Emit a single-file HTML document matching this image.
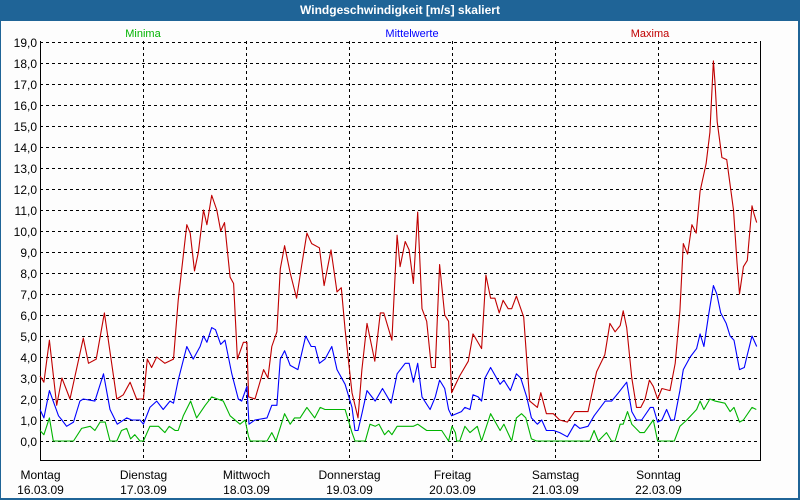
<!DOCTYPE html>
<html><head><meta charset="utf-8"><style>
html,body{margin:0;padding:0;background:#fff;}
#wrap{position:relative;width:800px;height:500px;background:#1f6497;overflow:hidden;font-family:"Liberation Sans",sans-serif;}
#title{position:absolute;left:0;top:0;width:800px;height:20px;line-height:20px;text-align:center;color:#fff;font-weight:bold;font-size:12px;}
#inner{position:absolute;left:1px;top:21px;width:797px;height:477px;background:#fdfdfd;}
svg{position:absolute;left:0;top:0;}
</style></head><body>
<div id="wrap">
<div id="title">Windgeschwindigkeit [m/s] skaliert</div>
<div id="inner"></div>
<svg id="chart" width="800" height="500" shape-rendering="crispEdges"></svg>
</div>
<script>
const dayNames = ["Montag","Dienstag","Mittwoch","Donnerstag","Freitag","Samstag","Sonntag"];
const dayDates = ["16.03.09","17.03.09","18.03.09","19.03.09","20.03.09","21.03.09","22.03.09"];
const yTicks = [0,1,2,3,4,5,6,7,8,9,10,11,12,13,14,15,16,17,18,19];
const maxHours = [0,0.9,2.2,3.9,5.1,7.0,10.1,11.3,13.1,15.0,17.9,19.4,21.0,22.5,24.1,25.0,26.0,27.2,29.1,31.1,32.2,34.2,35.0,36.0,36.9,38.1,38.9,40.0,41.2,42.1,43.0,44.3,45.1,46.0,47.4,48.2,48.6,50.1,52.1,53.1,54.0,55.2,56.0,57.0,58.3,59.8,61.0,62.2,63.3,65.1,66.2,67.8,69.2,70.2,71.1,72.7,74.1,75.0,76.2,78.0,79.3,80.1,82.0,83.2,83.9,85.1,86.0,87.0,88.0,89.0,90.1,91.2,92.1,93.1,94.3,95.2,95.9,97.8,99.8,100.9,102.9,103.9,105.0,106.0,107.0,107.9,109.1,109.9,111.0,112.7,114.1,115.9,116.7,118.0,119.6,121.1,122.9,124.6,127.7,129.7,131.6,132.8,134.0,135.2,135.9,136.7,137.9,139.0,140.0,141.0,142.0,142.9,143.9,144.9,146.8,148.0,149.1,149.9,150.9,151.9,152.9,153.8,155.2,156.1,156.9,157.3,157.8,158.9,160.0,161.6,162.4,163.0,163.9,164.8,165.9,166.4,167.0];
const maxValues = [3.1,2.8,4.8,1.7,3.0,2.0,4.9,3.7,3.9,6.1,2.0,2.2,2.8,2.0,2.0,3.9,3.5,4.0,3.7,3.9,6.7,10.3,9.9,8.1,9.0,11.0,10.3,11.7,11.0,10.0,10.4,7.8,7.5,3.9,4.7,4.7,2.1,2.0,3.4,3.0,4.5,5.2,8.2,9.3,8.0,6.8,8.4,9.9,9.4,9.2,7.4,9.1,7.1,7.3,5.3,2.3,1.1,3.4,5.6,3.8,6.1,6.1,4.8,9.8,8.3,9.5,9.1,7.5,10.9,6.3,5.7,3.5,3.5,8.4,6.0,5.7,2.3,3.1,3.8,5.1,4.4,7.9,6.8,6.8,6.1,6.7,6.3,6.3,6.9,5.9,1.9,1.6,2.3,1.3,1.3,1.0,0.9,1.4,1.4,3.3,4.1,5.6,5.2,5.5,6.2,5.4,3.0,1.6,1.6,2.0,2.9,2.6,2.0,2.5,2.4,3.7,6.2,9.4,8.9,10.3,9.9,11.9,13.2,14.7,18.1,17.0,15.2,13.5,13.4,11.0,8.5,7.0,8.3,8.6,11.2,10.8,10.4];
const meanHours = [0,0.9,2.2,4.3,5.1,6.2,7.8,9.3,10.1,12.8,14.8,16.3,18.0,20.2,21.4,23.3,24.1,25.6,27.2,28.7,30.3,31.1,32.2,34.2,35.7,37.3,38.1,38.9,40.0,40.9,42.1,43.1,44.7,46.2,47.0,48.2,48.7,50.1,52.9,54.0,55.2,56.0,57.0,58.3,60.1,61.9,63.2,64.1,65.1,66.4,68.0,69.2,71.1,72.7,73.4,74.1,75.0,76.2,78.1,79.8,81.8,83.2,85.1,86.0,87.0,88.0,89.0,90.9,92.1,93.1,94.3,95.2,95.9,98.2,99.0,100.2,100.9,102.1,102.9,103.7,105.0,107.2,108.1,109.6,111.0,112.0,113.4,114.5,115.9,116.9,118.0,119.7,121.1,122.9,124.6,125.8,127.7,129.1,131.7,133.2,134.8,136.7,137.9,139.0,140.2,142.2,142.9,143.9,144.9,146.0,147.0,147.8,149.1,149.9,151.5,153.0,153.8,154.7,155.8,156.9,157.7,158.6,159.9,160.8,161.7,163.0,164.1,164.8,165.9,167.0];
const meanValues = [1.5,1.1,2.4,1.2,1.0,0.7,0.9,1.9,2.0,1.9,3.2,1.5,0.8,1.1,1.0,1.0,0.8,1.6,1.9,1.5,1.9,1.8,2.9,4.5,3.9,4.5,5.0,4.7,5.4,5.3,4.6,4.8,3.2,2.0,1.9,2.6,0.8,1.0,1.1,1.7,1.7,3.9,4.3,3.6,3.4,5.0,4.5,4.5,3.7,3.9,4.5,3.4,2.7,1.6,0.5,0.5,1.3,2.4,1.9,2.5,1.8,3.2,3.7,3.7,2.8,3.7,2.1,1.5,2.1,2.9,2.5,1.5,1.2,1.4,1.6,1.5,2.2,2.1,1.9,3.0,3.5,2.7,2.9,2.4,3.2,3.0,2.1,1.1,0.8,1.0,0.5,0.5,0.4,0.2,0.8,0.6,0.7,1.2,1.9,1.9,2.3,2.8,1.4,1.0,1.0,1.6,1.6,0.9,1.0,1.5,1.0,1.0,2.4,3.4,4.0,4.4,5.1,4.5,6.0,7.4,7.0,6.1,5.6,5.0,4.8,3.4,3.5,4.1,5.0,4.5];
const minHours = [0,0.9,2.2,3.1,7.8,9.7,11.7,12.8,14.0,15.2,16.3,17.9,19.0,20.2,21.1,22.1,23.3,24.1,25.6,27.6,29.1,30.1,31.5,32.2,33.4,35.1,36.5,38.5,40.0,42.7,44.3,46.6,47.8,48.6,49.0,52.9,54.0,55.0,57.0,58.3,59.3,60.6,62.2,64.0,65.3,66.4,71.1,72.7,73.4,75.8,76.9,78.1,79.0,80.3,81.2,82.0,83.2,87.0,88.0,90.1,93.6,95.2,96.0,96.8,97.1,97.8,99.0,100.2,101.9,102.9,105.0,107.2,108.1,109.9,111.0,112.2,113.2,114.5,115.7,128.1,129.1,130.1,132.0,133.2,134.0,135.2,135.9,136.9,137.9,139.8,140.8,142.9,143.9,147.8,149.1,150.7,153.0,153.8,154.7,156.1,157.3,159.6,160.8,161.7,163.0,163.9,165.9,166.9];
const minValues = [0.5,0.3,1.1,0,0,0.6,0.7,0.5,0.9,0.9,0,0,0.5,0.6,0.1,0.3,0,0,0.7,0.7,0.4,0.7,0.5,0.5,1.2,1.9,1.1,1.7,2.1,1.9,1.2,0.8,1.0,0.2,0,0,0.4,0,1.3,0.8,1.1,1.1,1.6,1.1,1.6,1.5,1.5,0.4,0,0,0.8,0.7,0.8,0.3,0.5,0.3,0.7,0.7,0.8,0.5,0.5,0,0.7,0.4,0,0,0.7,0.4,0.7,0,1.3,0.5,0.8,0,1.1,1.3,1.1,0.1,0,0,0.5,0,0.4,0,0,0.8,0.8,1.4,0.8,0.4,0.4,1.0,0,0,0.7,1.0,1.5,1.9,1.5,2.0,1.9,1.8,1.4,1.6,0.9,1.0,1.6,1.5];

const NS = "http://www.w3.org/2000/svg";
const svg = document.getElementById('chart');
const X0 = 40, X1 = 761, Y0 = 441, PX = 21;
const xs = h => X0 + h * (X1 - X0) / 168;
const ys = v => Y0 - v * PX;
function mk(tag, attrs, parent) {
  const e = document.createElementNS(NS, tag);
  for (const k in attrs) e.setAttribute(k, attrs[k]);
  (parent || svg).appendChild(e);
  return e;
}
yTicks.forEach(t => {
  const y = Math.round(ys(t)) + 0.5;
  const g = mk('line', {x1: X0, x2: X1 - 1, y1: y, y2: y, stroke: '#000', 'stroke-dasharray': '3,3'});
  
  
  const lb = mk('text', {x: 37, y: y + 4.5, 'text-anchor': 'end', 'font-size': '12', fill: '#000', 'font-family': 'Liberation Sans, sans-serif'});
  lb.textContent = t.toFixed(1).replace('.', ',');
  
  
});
dayNames.forEach((d, i) => {
  const x = Math.round(xs(i * 24)) + 0.5;
  if (i > 0) {
    const v = mk('line', {x1: x, x2: x, y1: 41, y2: 460, stroke: '#000', 'stroke-dasharray': '3,3'});
    
    
  }
  const t1 = mk('text', {x: x, y: 479, 'text-anchor': 'middle', 'font-size': '12', fill: '#000', 'font-family': 'Liberation Sans, sans-serif'});
  t1.textContent = d;
  
  
  const t2 = mk('text', {x: x, y: 494, 'text-anchor': 'middle', 'font-size': '12', fill: '#000', 'font-family': 'Liberation Sans, sans-serif'});
  t2.textContent = dayDates[i];
  
  
});
const ax = mk('path', {d: 'M40.5,41 V460.5 H760.5 V41', fill: 'none', stroke: '#000'});


function series(hours, vals, color, name) {
  const d = hours.map((h, i) => (i ? 'L' : 'M') + xs(h).toFixed(1) + ',' + ys(vals[i]).toFixed(1)).join(' ');
  const p = mk('path', {d: d, fill: 'none', stroke: color, 'stroke-width': 1.1, 'shape-rendering': 'auto', 'stroke-linejoin': 'round'});
  
  
}
series(minHours, minValues, '#00b400', 'minima-line');
series(meanHours, meanValues, '#0000ff', 'mittelwerte-line');
series(maxHours, maxValues, '#c00000', 'maxima-line');
[['Minima', 143, '#00b400', 'legend-minima'], ['Mittelwerte', 412, '#0000ff', 'legend-mittelwerte'], ['Maxima', 650, '#c00000', 'legend-maxima']].forEach(l => {
  const t = mk('text', {x: l[1], y: 37, 'text-anchor': 'middle', 'font-size': '11', fill: l[2], 'font-family': 'Liberation Sans, sans-serif'});
  t.textContent = l[0];
  
  
});
</script>
</body></html>
